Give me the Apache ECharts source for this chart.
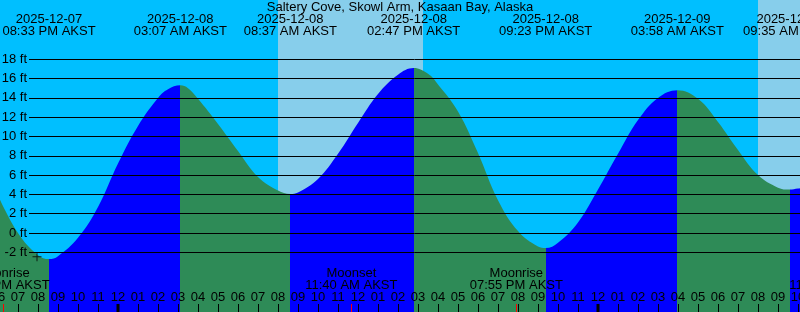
<!DOCTYPE html>
<html><head><meta charset="utf-8">
<script src="https://cdn.jsdelivr.net/npm/echarts@6/dist/echarts.min.js"></script>
<style>html,body{margin:0;padding:0;background:#00BFFF}#c{width:800px;height:312px}</style>
</head><body><div id="c"></div>
<script>
// ---------- data ----------
const chartTitle = 'Saltery Cove, Skowl Arm, Kasaan Bay, Alaska';
const startTime = '2025-12-07 18:00';
const tideTimes = [
  '2025-12-07 18:00','2025-12-07 19:00','2025-12-07 20:00','2025-12-07 20:33','2025-12-07 21:00',
  '2025-12-07 22:00','2025-12-07 23:00','2025-12-08 00:00','2025-12-08 01:00','2025-12-08 02:00',
  '2025-12-08 02:30','2025-12-08 03:07','2025-12-08 03:30','2025-12-08 04:00','2025-12-08 05:00',
  '2025-12-08 06:00','2025-12-08 07:00','2025-12-08 08:00','2025-12-08 08:37','2025-12-08 09:00',
  '2025-12-08 10:00','2025-12-08 11:00','2025-12-08 12:00','2025-12-08 13:00','2025-12-08 14:00',
  '2025-12-08 14:47','2025-12-08 15:30','2025-12-08 16:00','2025-12-08 17:00','2025-12-08 18:00',
  '2025-12-08 19:00','2025-12-08 20:00','2025-12-08 21:00','2025-12-08 21:23','2025-12-08 22:00',
  '2025-12-08 23:00','2025-12-09 00:00','2025-12-09 01:00','2025-12-09 02:00','2025-12-09 03:00',
  '2025-12-09 03:58','2025-12-09 05:00','2025-12-09 06:00','2025-12-09 07:00','2025-12-09 08:00',
  '2025-12-09 09:00','2025-12-09 09:35','2025-12-09 10:00','2025-12-09 10:06'
];
const tideHeights = [
  3.9, 0.0, -2.3, -2.7, -2.4,
  -0.5, 2.7, 7.2, 11.1, 14.0,
  14.9, 15.3, 15.0, 13.9, 11.3,
  8.5, 5.8, 4.4, 4.05, 4.2,
  5.6, 8.2, 11.4, 14.4, 16.4,
  17.1, 16.5, 15.4, 12.6, 8.3,
  3.4, 0.2, -1.4, -1.55, -1.0,
  1.1, 4.5, 8.2, 11.7, 14.0,
  14.8, 13.9, 11.5, 8.6, 6.0,
  4.7, 4.5, 4.6, 4.65
];
const extremeTimes = ['2025-12-07 20:33','2025-12-08 03:07','2025-12-08 08:37','2025-12-08 14:47','2025-12-08 21:23','2025-12-09 03:58','2025-12-09 09:35'];
const extremeTypes = ['L','H','L','H','L','H','L'];
const extremeDateLabels = ['2025-12-07','2025-12-08','2025-12-08','2025-12-08','2025-12-08','2025-12-09','2025-12-09'];
const extremeTimeLabels = ['08:33 PM AKST','03:07 AM AKST','08:37 AM AKST','02:47 PM AKST','09:23 PM AKST','03:58 AM AKST','09:35 AM AKST'];
const sunriseTimes = ['2025-12-08 08:00','2025-12-09 08:00'];
const sunsetTimes  = ['2025-12-08 15:15','2025-12-09 15:15'];
const moonTimes = ['2025-12-07 18:15','2025-12-08 11:40','2025-12-08 19:55','2025-12-09 11:52'];
const moonNames = ['Moonrise','Moonset','Moonrise','Moonset'];
const moonTimeLabels = ['06:15 PM AKST','11:40 AM AKST','07:55 PM AKST','11:52 AM AKST'];
const midnightTimes = ['2025-12-08 00:00','2025-12-09 00:00'];
const nowTime = '2025-12-07 19:57';
const nowHeight = -2.45;
const yTickValues = [-2, 0, 2, 4, 6, 8, 10, 12, 14, 16, 18];
const yUnit = 'ft';

// ---------- helpers ----------
function parseT(s){const [d,t]=s.split(' ');const [Y,M,D]=d.split('-').map(Number);const [h,m]=t.split(':').map(Number);return Date.UTC(Y,M-1,D,h,m);}
const base = parseT(startTime);
const baseHour = Number(startTime.split(' ')[1].split(':')[0]);
function hrs(s){return (parseT(s)-base)/3600000;}
const FONT = '"Liberation Sans", Arial, sans-serif';
const BLUE = '#0000FF', GREEN = '#2E8B57';

const tideData = tideTimes.map((t,i)=>[hrs(t), tideHeights[i]]);
const ex = extremeTimes.map(hrs);
const pieces = [];
pieces.push({lt: ex[0], color: extremeTypes[0]==='L' ? GREEN : BLUE});
for (let i=0;i<ex.length;i++){
  const rising = extremeTypes[i]==='L';
  const p = {gte: ex[i], color: rising ? BLUE : GREEN};
  if (i+1<ex.length) p.lt = ex[i+1];
  pieces.push(p);
}

// vertical scale shared by both grids
const yLo = yTickValues[0], yHi = yTickValues[yTickValues.length-1];
const gTop = 59.3, gBot = 59.7, H = 312;
const pxPerUnit = (H - gTop - gBot) / (yHi - yLo);
const aMin = yLo - gBot / pxPerUnit, aMax = yHi + gTop / pxPerUnit;

// custom overlay items
const items = [];
extremeTimes.forEach((t,i)=>items.push({h:hrs(t), kind:'ext', a:extremeDateLabels[i], b:extremeTimeLabels[i]}));
moonTimes.forEach((t,i)=>items.push({h:hrs(t), kind:'moon', a:moonNames[i], b:moonTimeLabels[i]}));
midnightTimes.forEach(t=>items.push({h:hrs(t), kind:'mid'}));

function txt(x,y,s){return {type:'text', style:{x:x, y:y, text:s, fill:'#000', font:'13px '+FONT, align:'center', verticalAlign:'middle'}};}

const chart = echarts.init(document.getElementById('c'));
chart.setOption({
  animation: false,
  backgroundColor: '#00BFFF',
  textStyle: {fontFamily: FONT},
  graphic: [{type:'text', x:400, y:7.2, z:20, style:{text: chartTitle, fill:'#000', font:'13px '+FONT, align:'center', verticalAlign:'middle'}}],
  grid: [
    {left:-2, right:-18, top:0, bottom:0, outerBoundsMode:'none'},
    {left:29, right:0, top:gTop, bottom:gBot, outerBoundsMode:'none'}
  ],
  xAxis: [
    {gridIndex:0, type:'value', position:'bottom', min:0, max:41, interval:1,
     axisLine:{show:false, onZero:false}, splitLine:{show:false},
     axisTick:{show:true, inside:true, length:8, lineStyle:{color:'#000', width:1}},
     axisLabel:{show:true, inside:true, margin:15, verticalAlign:'middle', color:'#000', fontSize:13, fontFamily:FONT,
       showMinLabel:true, showMaxLabel:true,
       formatter: v => { const h24 = (baseHour + Math.round(v)) % 24; const h12 = h24 % 12 || 12; return String(h12).padStart(2,'0'); }},
     z: 5},
    {gridIndex:1, type:'value', min:0, max:1, show:false, axisLine:{onZero:false}}
  ],
  yAxis: [
    {gridIndex:0, type:'value', min:aMin, max:aMax, show:false, splitLine:{show:false}, axisLine:{onZero:false}},
    {gridIndex:1, type:'value', min:yLo, max:yHi, interval:yTickValues[1]-yTickValues[0],
     axisLine:{show:false, onZero:false}, axisTick:{show:false},
     axisLabel:{margin:2, color:'#000', fontSize:13, fontFamily:FONT, formatter: v => v + ' ' + yUnit},
     splitLine:{show:true, showMinLine:true, showMaxLine:true, lineStyle:{color:'#000', width:1}},
     z: 5}
  ],
  visualMap: {type:'piecewise', show:false, dimension:0, seriesIndex:0, pieces: pieces},
  series: [
    {type:'line', xAxisIndex:0, yAxisIndex:0, data: tideData, smooth:0.4, showSymbol:false,
     lineStyle:{width:0, opacity:0}, areaStyle:{opacity:1, origin:'start'}, z:2, silent:true,
     markArea:{silent:true, itemStyle:{color:'#87CEEB'},
       data: sunriseTimes.map((t,i)=>[{xAxis:hrs(t)},{xAxis:hrs(sunsetTimes[i])}])}},
    {type:'scatter', xAxisIndex:0, yAxisIndex:0, data:[[hrs(nowTime), nowHeight]],
     symbol:'path://M4,0h1v9h-1z M0,4h9v1h-9z', symbolSize:9, itemStyle:{color:'#000'}, z:8, silent:true},
    {type:'custom', xAxisIndex:0, yAxisIndex:0, z:10, silent:true,
     data: items.map((d,i)=>[d.h, i]),
     encode:{x:0},
     renderItem: function(params, api){
       const it = items[api.value(1)];
       const x = api.coord([api.value(0), 0])[0];
       if (it.kind==='ext') return {type:'group', children:[txt(x,19.7,it.a), txt(x,31.5,it.b)]};
       if (it.kind==='moon') return {type:'group', children:[txt(x,273.2,it.a), txt(x,285.8,it.b),
         {type:'rect', shape:{x:Math.floor(x), y:304, width:1, height:8}, style:{fill:'#FF0000'}}]};
       return {type:'rect', shape:{x:Math.round(x)-1.5, y:304, width:3, height:8}, style:{fill:'#000'}};
     }}
  ]
});
</script></body></html>
